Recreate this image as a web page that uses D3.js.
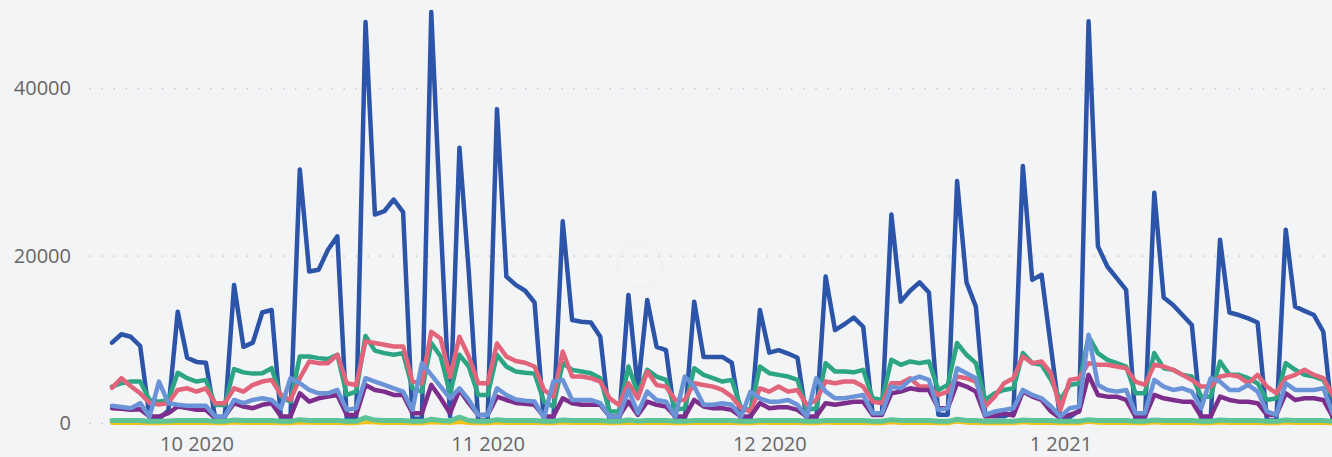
<!DOCTYPE html>
<html>
<head>
<meta charset="utf-8">
<script src="https://cdn.jsdelivr.net/npm/d3@7"></script>
<style>
  html, body { margin: 0; padding: 0; background: #f3f4f6; overflow: hidden; }
  svg { display: block; }
  .axis text { font-family: "Segoe UI", "Open Sans", sans-serif; font-size: 20px; fill: #666; }
</style>
</head>
<body>
<svg id="chart" width="1332" height="457"></svg>
<script>
// first day of the daily series (one value per day)
const startDate = "2020-09-22";

const yTicks = [0, 20000, 40000];
const monthTicks = ["2020-10-01", "2020-11-01", "2020-12-01", "2021-01-01"];

const seriesNames = ["Serie 1", "Serie 2", "Serie 3", "Serie 4", "Serie 5", "Serie 6", "Serie 7"];
const colors = ["#2c54a8", "#2ba583", "#e2647a", "#7d2e8c", "#6b93d7", "#f2c21b", "#5fc398"];

const blueVals = [
  9600, 10600, 10300, 9200, 700, 500, 1500,
  13300, 7800, 7300, 7200, 500, 500, 16500,
  9100, 9600, 13200, 13500, 500, 500, 30300,
  18100, 18300, 20700, 22300, 500, 500, 47900,
  24900, 25300, 26700, 25200, 500, 500, 49100,
  24000, 800, 32900, 18000, 300, 300, 37500,
  17500, 16500, 15800, 14400, 300, 300, 24100,
  12300, 12100, 12000, 10300, 300, 300, 15300,
  4000, 14700, 9100, 8700, 300, 300, 14500,
  7900, 7900, 7900, 7200, 300, 300, 13500,
  8400, 8700, 8300, 7800, 300, 300, 17500,
  11100, 11800, 12600, 11500, 1100, 1100, 24900,
  14500, 15800, 16800, 15600, 1000, 1000, 28900,
  16800, 13900, 1000, 800, 800, 1200, 30700,
  17100, 17700, 9000, 300, 700, 1500, 48000,
  21100, 18700, 17300, 15900, 300, 300, 27500,
  15000, 14100, 12900, 11700, 300, 300, 21900,
  13200, 12900, 12500, 12000, 300, 300, 23100,
  13900, 13400, 12900, 10900, 300
];

const greenVals = [
  4350, 4750, 4950, 4950, 2750, 2550, 2750,
  6000, 5350, 4950, 5150, 2150, 2150, 6450,
  6050, 5900, 5950, 6550, 3150, 2550, 7950,
  7950, 7750, 7650, 8150, 3350, 3750, 10400,
  8650, 8350, 8150, 8350, 4150, 3750, 9550,
  7950, 3500, 8150, 6750, 3350, 3350, 8150,
  6750, 6150, 6000, 5900, 2550, 1970, 7150,
  6350, 6150, 5950, 5350, 1370, 1370, 6750,
  3550, 6350, 5550, 5150, 1570, 1770, 6550,
  5750, 5350, 4950, 5150, 1770, 1570, 6750,
  5950, 5750, 5550, 5150, 1570, 1770, 7150,
  6150, 6150, 6050, 6350, 2950, 2750, 7550,
  6950, 7350, 7150, 7350, 3950, 4550, 9550,
  8150, 7150, 2750, 3550, 3950, 4150, 8350,
  7150, 6950, 5150, 2750, 4550, 4750, 10350,
  8350, 7550, 7150, 6750, 3550, 3550, 8350,
  6550, 6350, 5750, 5550, 3150, 3150, 7350,
  5750, 5750, 5350, 4750, 2750, 2950, 7150,
  6350, 5750, 5550, 5150, 3150
];

const pinkVals = [
  4200, 5350, 4400, 3550, 2400, 2200, 2400,
  3950, 4150, 3750, 4150, 2350, 2350, 4150,
  3750, 4550, 4950, 5150, 3350, 2750, 5350,
  7350, 7150, 7150, 8150, 4750, 4550, 9750,
  9550, 9350, 9150, 9150, 4950, 4750, 10900,
  10100, 5500, 10300, 7950, 4750, 4750, 9500,
  7950, 7400, 7200, 6750, 3950, 3150, 8550,
  5550, 5550, 5350, 4950, 2950, 2150, 4750,
  2950, 6150, 4550, 4350, 2750, 2750, 4750,
  4550, 4350, 3950, 3150, 1770, 1370, 4150,
  3750, 4350, 3750, 3950, 2150, 2750, 4950,
  4750, 4950, 4950, 4350, 2550, 2350, 4750,
  4750, 5350, 4350, 4350, 3350, 3750, 5550,
  5350, 4950, 1970, 3150, 4750, 5350, 7950,
  7150, 7350, 5950, 1570, 5150, 5350, 7150,
  6950, 6950, 6750, 6550, 4950, 4550, 6950,
  6750, 6350, 5750, 5150, 4350, 4350, 5550,
  5750, 5550, 4750, 5750, 4350, 3550, 5350,
  5750, 6350, 5750, 5350, 3350
];

const purpleVals = [
  1770, 1700, 1570, 1650, 770, 770, 1170,
  1970, 1800, 1570, 1570, 570, 770, 2370,
  1970, 1770, 2170, 2370, 770, 770, 3550,
  2550, 2950, 3150, 3350, 970, 970, 4550,
  3950, 3750, 3350, 3350, 1170, 1170, 4550,
  2950, 1170, 3950, 2370, 970, 970, 3150,
  2750, 2400, 2300, 2170, 770, 770, 2950,
  2370, 2170, 2170, 2170, 770, 770, 2550,
  970, 2550, 2170, 1970, 770, 770, 2750,
  1970, 1770, 1770, 1570, 770, 770, 2370,
  1770, 1870, 1870, 1570, 770, 770, 2370,
  2170, 2370, 2550, 2550, 970, 970, 3550,
  3750, 4150, 3950, 3950, 1770, 1770, 4750,
  4350, 3750, 770, 850, 1170, 900, 3750,
  3150, 2750, 1370, 570, 970, 1370, 5750,
  3350, 3150, 3150, 2750, 770, 770, 3350,
  2950, 2750, 2550, 2550, 770, 770, 3150,
  2750, 2550, 2550, 2370, 970, 970, 3550,
  2750, 2950, 2950, 2750, 770
];

const lightBlueVals = [
  2050, 1900, 1770, 2370, 770, 4950, 2370,
  2170, 2050, 2050, 2050, 770, 770, 2750,
  2370, 2750, 2950, 2750, 1770, 5350, 4750,
  3950, 3550, 3550, 3950, 1570, 1770, 5350,
  4950, 4550, 4150, 3750, 1570, 7150, 5750,
  4350, 2950, 4150, 2750, 970, 970, 4150,
  3350, 2800, 2650, 2560, 570, 4950, 5150,
  2750, 2750, 2750, 2370, 770, 770, 3950,
  1170, 3750, 2750, 2550, 770, 5550, 4350,
  2170, 2170, 2370, 2170, 770, 3750, 2950,
  2550, 2550, 2750, 2170, 770, 5350, 3750,
  2950, 2950, 3150, 3350, 1170, 1170, 4350,
  4150, 5150, 5550, 5150, 1570, 1770, 6550,
  5950, 5350, 970, 1370, 1570, 1770, 3950,
  3350, 2950, 1970, 770, 1770, 1970, 10550,
  4550, 3950, 3750, 3950, 1170, 1170, 5150,
  4350, 3950, 4150, 3750, 1770, 5350, 4950,
  3950, 3950, 4550, 3750, 1370, 970, 4750,
  3950, 3950, 3950, 4150, 1170
];

const yellowVals = [
  40, 40, 40, 40, 0, 0, 40,
  60, 40, 40, 40, 0, 0, 80,
  40, 40, 40, 40, 0, 0, 100,
  60, 40, 40, 40, 0, 0, 150,
  80, 40, 40, 40, 0, 0, 120,
  60, 40, 150, 40, 0, 0, 100,
  40, 40, 40, 40, 0, 0, 80,
  40, 40, 40, 40, 0, 0, 60,
  40, 40, 40, 40, 0, 0, 60,
  40, 40, 40, 40, 0, 0, 60,
  40, 40, 40, 40, 0, 0, 100,
  40, 40, 40, 40, 0, 0, 120,
  40, 40, 40, 40, 0, 0, 200,
  60, 40, 0, 0, 0, 0, 120,
  40, 40, 40, 0, 0, 0, 180,
  60, 40, 40, 40, 0, 0, 120,
  40, 40, 40, 40, 0, 0, 100,
  40, 40, 40, 40, 0, 0, 100,
  40, 40, 40, 40, 0
];

const mintVals = [
  300, 300, 300, 300, 200, 200, 250,
  300, 300, 300, 300, 200, 200, 350,
  300, 300, 300, 300, 200, 200, 400,
  300, 300, 300, 300, 200, 200, 650,
  350, 300, 300, 300, 200, 200, 450,
  300, 250, 700, 300, 200, 200, 400,
  300, 300, 300, 300, 200, 200, 350,
  300, 300, 300, 300, 200, 200, 350,
  250, 300, 300, 300, 200, 200, 300,
  300, 300, 300, 300, 200, 200, 300,
  300, 300, 300, 300, 200, 200, 300,
  300, 300, 300, 300, 200, 200, 400,
  300, 300, 300, 300, 200, 200, 450,
  300, 300, 200, 200, 200, 200, 350,
  300, 300, 300, 200, 200, 200, 400,
  300, 300, 300, 300, 200, 200, 350,
  300, 300, 300, 300, 200, 200, 350,
  300, 300, 300, 300, 200, 200, 350,
  300, 300, 300, 300, 200
];

const allSeries = [blueVals, greenVals, pinkVals, purpleVals, lightBlueVals, yellowVals, mintVals];

const width = 1332, height = 457;
const svg = d3.select("#chart");

// faint background decoration (glow ring behind the plot)
svg.append("circle")
    .attr("cx", 640).attr("cy", 264).attr("r", 22)
    .attr("fill", "none")
    .attr("stroke", "#f7ebe8")
    .attr("stroke-width", 2.5)
    .attr("opacity", 0.45);

const parse = d3.utcParse("%Y-%m-%d");
const day0 = parse(startDate);
const dates = d3.utcDay.range(day0, d3.utcDay.offset(day0, blueVals.length));

var x = d3.scaleUtc()
    .domain([dates[0], dates[dates.length - 1]])
    .range([112, 112 + (dates.length - 1) * 9.39]);

var y = d3.scaleLinear()
    .domain([0, 50000])
    .range([423, 4.5]);

// Grid lines + y labels
var gridLeft = 90;
var yAxis = svg.append("g")
    .attr("class", "axis")
    .attr("transform", "translate(" + gridLeft + ",0)")
    .call(d3.axisLeft(y)
        .tickValues(yTicks)
        .tickSize(-(width - gridLeft))
        .tickPadding(19)
        .tickFormat(d3.format("d")));
yAxis.select(".domain").remove();
yAxis.selectAll("line")
    .attr("stroke", "#c4c6ca")
    .attr("stroke-width", 1.6)
    .attr("stroke-linecap", "round")
    .attr("stroke-dasharray", "0.1,12");

// x labels (month)
var xAxis = svg.append("g")
    .attr("class", "axis")
    .attr("transform", "translate(0,433)")
    .call(d3.axisBottom(x)
        .tickValues(monthTicks.map(parse))
        .tickSize(0)
        .tickPadding(0)
        .tickFormat(d3.utcFormat("%-m %Y")));
xAxis.select(".domain").remove();
xAxis.selectAll("text").attr("dy", "18px");

// Lines
let line = d3.line()
    .x((d, i) => x(dates[i]))
    .y(d => y(d));

var plot = svg.append("g");
for (var i = 0; i < allSeries.length; i++) {
    plot.append("path")
        .datum(allSeries[i])
        .attr("d", line)
        .attr("fill", "none")
        .attr("stroke", colors[i])
        .attr("stroke-width", i === 6 ? 5 : 4.5)
        .attr("stroke-linejoin", "round")
        .attr("stroke-linecap", "round")
        .append("title").text(seriesNames[i]);
}
</script>
</body>
</html>
